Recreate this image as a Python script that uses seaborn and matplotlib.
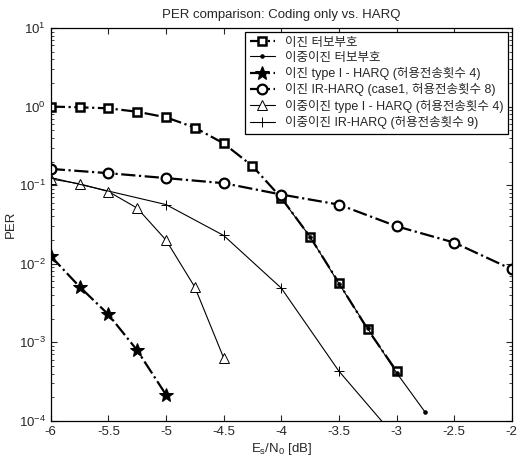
import matplotlib
matplotlib.use("Agg")
import matplotlib.pyplot as plt
import seaborn as sns
import numpy as np
import pandas as pd

# ---- data ----
x_bin_turbo = [-6, -5.75, -5.5, -5.25, -5, -4.75, -4.5, -4.25, -4, -3.75, -3.5, -3.25, -3.0]
y_bin_turbo = [1.0, 0.98, 0.95, 0.86, 0.73, 0.54, 0.34, 0.175, 0.069, 0.022, 0.0057, 0.00146, 0.00043]

x_dbin_turbo = [-4, -3.75, -3.5, -3.25, -3.0, -2.75]
y_dbin_turbo = [0.068, 0.022, 0.0056, 0.0015, 0.00041, 0.000128]

x_bin_type1 = [-6, -5.75, -5.5, -5.25, -5]
y_bin_type1 = [0.0125, 0.0051, 0.00226, 0.00079, 0.000215]

x_bin_ir = [-6, -5.5, -5, -4.5, -4, -3.5, -3, -2.5, -2]
y_bin_ir = [0.161, 0.142, 0.123, 0.106, 0.076, 0.0566, 0.030, 0.0186, 0.0085]

x_dbin_type1 = [-6, -5.75, -5.5, -5.25, -5, -4.75, -4.5]
y_dbin_type1 = [0.12, 0.104, 0.083, 0.051, 0.020, 0.00504, 0.000635]

x_dbin_ir = [-6, -5, -4.5, -4, -3.5, -3]
y_dbin_ir = [0.125, 0.0566, 0.0229, 0.0049, 0.00043, 0.00006]

labels = ["이진 터보부호",
          "이중이진 터보부호",
          "이진 type I - HARQ (허용전송횟수 4)",
          "이진 IR-HARQ (case1, 허용전송횟수 8)",
          "이중이진 type I - HARQ (허용전송횟수 4)",
          "이중이진 IR-HARQ (허용전송횟수 9)"]

title = "PER comparison: Coding only vs. HARQ"
xlabel = r"E$_s$/N$_0$ [dB]"
ylabel = "PER"
xticks = [-6, -5.5, -5, -4.5, -4, -3.5, -3, -2.5, -2]
xticklabels = ["-6", "-5.5", "-5", "-4.5", "-4", "-3.5", "-3", "-2.5", "-2"]

sns.set_style("ticks")
plt.rcParams['font.family'] = ['Liberation Sans', 'Noto Sans CJK KR', 'DejaVu Sans']
plt.rcParams['mathtext.fontset'] = 'custom'
plt.rcParams['mathtext.rm'] = 'Liberation Sans'
plt.rcParams['mathtext.it'] = 'Liberation Sans'

fig = plt.figure(figsize=(5.18, 4.59), dpi=100)
ax = fig.add_axes([0.098, 0.083, 0.89, 0.856])

series = [
    (x_bin_turbo, y_bin_turbo, dict(marker='s', linestyle='-.', lw=1.6, ms=6, mfc='white', mec='black', mew=1.8)),
    (x_dbin_turbo, y_dbin_turbo, dict(marker='.', linestyle='-', lw=0.8, ms=5, mfc='black', mec='black')),
    (x_bin_type1, y_bin_type1, dict(marker='*', linestyle='-.', lw=1.6, ms=10, mfc='black', mec='black')),
    (x_bin_ir, y_bin_ir, dict(marker='o', linestyle='-.', lw=1.6, ms=7, mfc='white', mec='black', mew=1.6)),
    (x_dbin_type1, y_dbin_type1, dict(marker='^', linestyle='-', lw=0.8, ms=6.5, mfc='white', mec='black', mew=0.7)),
    (x_dbin_ir, y_dbin_ir, dict(marker='+', linestyle='-', lw=0.8, ms=7, mec='black', mew=0.7)),
]

for (xs, ys, st), lab in zip(series, labels):
    df = pd.DataFrame({"x": xs, "y": ys})
    sns.lineplot(data=df, x="x", y="y", ax=ax, color='black', label=lab, **st)

ax.set_yscale('log')
ax.set_xlim(-6, -2)
ax.set_ylim(1e-4, 10)
ax.set_xticks(xticks)
ax.set_xticklabels(xticklabels)
ax.tick_params(direction='in', top=True, right=True, which='both', labelsize=9.5, length=4)
ax.tick_params(which='minor', length=2)
for sp in ax.spines.values():
    sp.set_linewidth(0.9)
    sp.set_color('black')

ax.set_title(title, fontsize=9.5, pad=7)
ax.set_xlabel(xlabel, fontsize=9.5, labelpad=2)
ax.set_ylabel(ylabel, fontsize=9.5, labelpad=1)

leg = ax.legend(loc='upper right', fontsize=9, frameon=True, fancybox=False,
                edgecolor='black', framealpha=1, labelspacing=0.25, handlelength=2.0,
                borderaxespad=0.3, borderpad=0.4, handletextpad=0.8)
leg.get_frame().set_linewidth(0.9)

fig.savefig("out.png", dpi=100)
